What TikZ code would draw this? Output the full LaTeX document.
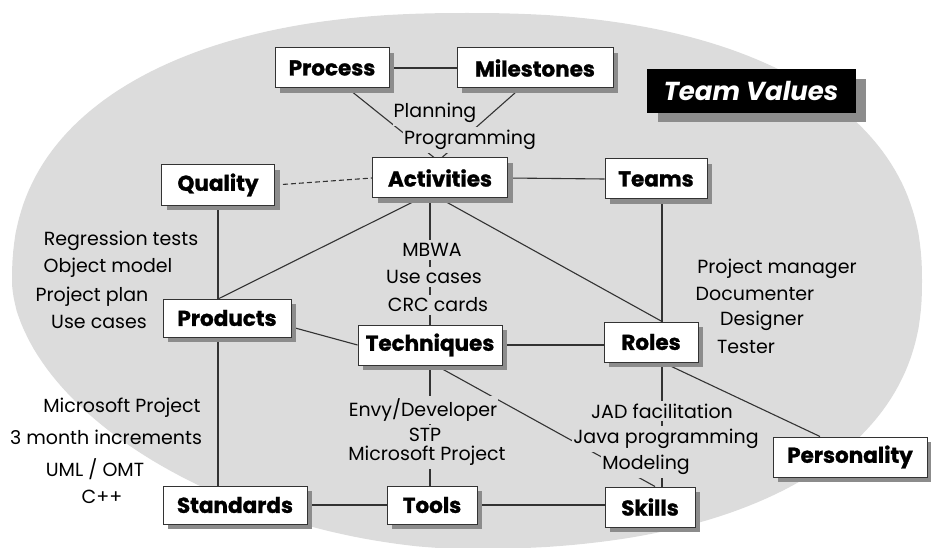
\documentclass[tikz,border=0pt]{standalone}
\usepackage{fontspec}
\setmainfont{Poppins}
\newfontfamily\boxfont{Poppins}[BoldFeatures={FakeBold=1.2}]
\usetikzlibrary{calc,shadows}
\definecolor{ellgray}{HTML}{DCDCDC}
\definecolor{linec}{HTML}{333333}
\definecolor{shadowc}{HTML}{8C8C8C}
\pgfdeclarelayer{bg}
\pgfdeclarelayer{edges}
\pgfsetlayers{bg,edges,main}
\tikzset{
  box/.style={draw=linec, line width=1pt, fill=white, inner sep=0pt,
    minimum height=40pt, font=\fontsize{21.5}{23}\selectfont\boxfont\bfseries,
    drop shadow={shadow xshift=5pt, shadow yshift=-5pt, fill=shadowc, opacity=1}},
  lbl/.style={font=\fontsize{19}{21}\selectfont, inner xsep=1pt, inner ysep=3pt},
  flbl/.style={lbl, fill=ellgray},
  edge/.style={draw=linec, line width=1.1pt}
}
\begin{document}
\begin{tikzpicture}[x=1pt,y=-1pt]
\useasboundingbox (0,0) rectangle (931,548);
\begin{pgfonlayer}{bg}
  \fill[ellgray]
    plot[domain=0.05:89.95, samples=60, variable=\t]
      ({467+455*pow(abs(cos(\t))+0.00001,0.87)}, {281+268*pow(abs(sin(\t))+0.00001,0.87)})
    -- plot[domain=90.05:179.95, samples=60, variable=\t]
      ({467-455*pow(abs(cos(\t))+0.00001,1.111)}, {281+268*pow(abs(sin(\t))+0.00001,1.111)})
    -- plot[domain=180.05:269.95, samples=60, variable=\t]
      ({467-455*pow(abs(cos(\t))+0.00001,0.87)}, {281-268*pow(abs(sin(\t))+0.00001,0.87)})
    -- plot[domain=270.05:359.95, samples=60, variable=\t]
      ({467+455*pow(abs(cos(\t))+0.00001,0.87)}, {281-268*pow(abs(sin(\t))+0.00001,0.87)})
    -- cycle;
\end{pgfonlayer}

% boxes
\node[box, minimum width=114pt] (proc) at (332,68) {Process};
\node[box, minimum width=156pt] (mile) at (535,68) {Milestones};
\node[draw=black, fill=black, text=white, inner sep=0pt, minimum width=208pt, minimum height=43pt,
  font=\fontsize{26}{28}\selectfont\bfseries\itshape,
  drop shadow={shadow xshift=11pt, shadow yshift=-10pt, fill=shadowc, opacity=1}] (tv) at (751,91) {Team Values};
\node[box, minimum width=135pt] (act) at (440,178) {Activities};
\node[box, minimum width=113pt] (qual) at (218,185) {Quality};
\node[box, minimum width=102pt] (teams) at (656,179) {Teams};
\node[box, minimum width=128pt, minimum height=38pt] (prod) at (227,318) {Products};
\node[box, minimum width=144pt] (tech) at (430,345) {Techniques};
\node[box, minimum width=94pt] (roles) at (651,342) {Roles};
\node[box, minimum width=154pt] (pers) at (850,457) {Personality};
\node[box, minimum width=144pt, minimum height=38pt] (stand) at (235,505) {Standards};
\node[box, minimum width=90pt, minimum height=38pt] (tools) at (432,505) {Tools};
\node[box, minimum width=90pt] (skills) at (650,507) {Skills};

% edges
\begin{pgfonlayer}{edges}
  \draw[edge] (proc.east) -- (mile.west);
  \draw[edge] ($(proc.south)+(16,0)$) -- ($(act.north)+(-6,0)$);
  \draw[edge] ($(mile.south)+(-15,0)$) -- ($(act.north)+(2,0)$);
  \draw[edge, dashed, dash pattern=on 5pt off 3pt] (qual.east) -- (act.west);
  \draw[edge] (act.east) -- (teams.west);
  \draw[edge] ($(act.south)+(-20,0)$) -- ($(prod.north)+(-8,0)$);
  \draw[edge] (qual.south) -- (qual.south |- prod.north);
  \draw[edge] (qual.south |- prod.south) -- (qual.south |- stand.north);
  \draw[edge] (tech.north |- act.south) -- (tech.north);
  \draw[edge] (tech.south) -- (tech.south |- tools.north);
  \draw[edge] (act.south) -- ($(roles.north)+(11,0)$);
  \draw[edge] ($(teams.south)+(6,0)$) -- ($(roles.north)+(11,0)$);
  \draw[edge] ($(roles.south)+(11,0)$) -- ($(skills.north)+(12,0)$);
  \draw[edge] ($(prod.east)+(0,9)$) -- (tech.west);
  \draw[edge] (tech.east) -- (tech.east -| roles.west);
  \draw[edge] ($(tech.south)+(6,0)$) -- ($(skills.north)+(5,0)$);
  \draw[edge] ($(roles.south)+(12,0)$) -- ($(pers.north)+(-30,0)$);
  \draw[edge] (stand.east) -- (tools.west);
  \draw[edge] (tools.east) -- (tools.east -| skills.west);
\end{pgfonlayer}

% labels
\node[flbl] (l1) at (435,113) {Planning};
\node[flbl] (l2) at (470,140) {Programming};
\node[flbl] (l3) at (432,250) {MBWA};
\node[flbl] (l4) at (434,277) {Use cases};
\node[flbl] (l5) at (438,305) {CRC cards};
\node[lbl] (l6) at (121,241) {Regression tests};
\node[lbl] (l7) at (108,268) {Object model};
\node[lbl] (l8) at (92,297) {Project plan};
\node[lbl] (l9) at (99,322) {Use cases};
\node[lbl] (l10) at (777,269) {Project manager};
\node[lbl] (l11) at (755,294) {Documenter};
\node[lbl] (l12) at (762,321) {Designer};
\node[lbl] (l13) at (746,347) {Tester};
\node[flbl] (l14) at (662,411) {JAD facilitation};
\node[flbl] (l15) at (666,439) {Java programming};
\node[flbl] (l16) at (646,465) {Modeling};
\node[flbl] (l17) at (423,410) {Envy/Developer};
\node[flbl] (l18) at (425,435) {STP};
\node[flbl] (l19) at (427,456) {Microsoft Project};
\node[lbl] (l20) at (122,408) {Microsoft Project};
\node[lbl] (l21) at (106,437) {3 month increments};
\node[lbl] (l22) at (95,469) {UML / OMT};
\node[lbl] (l23) at (102,497) {C++};
\end{tikzpicture}
\end{document}
